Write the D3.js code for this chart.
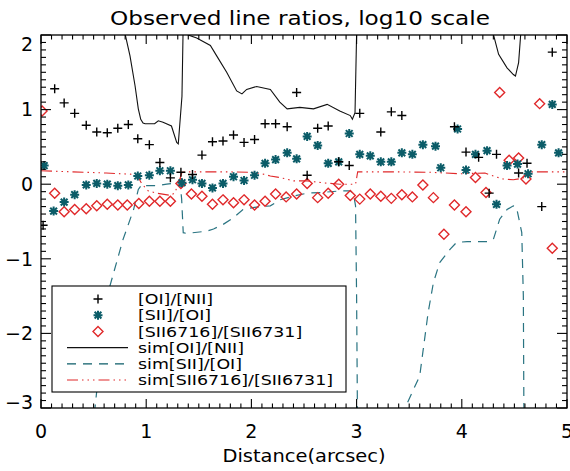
<!DOCTYPE html>
<html><head><meta charset="utf-8">
<script src="https://cdn.jsdelivr.net/npm/d3@7"></script>
<style>body{margin:0;background:#fff} svg{display:block} text{font-family:"DejaVu Sans",sans-serif;fill:#000}</style>
</head><body><svg id="c" width="570" height="471"></svg>
<script>
// ---- data (log10 ratios vs distance in arcsec) ----
const oiNiiDist = [0.02,0.13,0.22,0.32,0.43,0.53,0.63,0.73,0.83,0.92,1.03,1.13,1.23,1.33,1.44,1.53,1.63,1.73,1.83,1.93,2.03,2.13,2.23,2.34,2.43,2.53,2.63,2.73,2.83,2.93,3.03,3.23,3.33,3.43,3.93,4.04,4.16,4.26,4.33,4.54,4.62,4.76,4.86];
const oiNiiVal  = [-0.55,1.28,1.09,0.95,0.79,0.70,0.69,0.75,0.80,0.61,0.53,0.29,0.085,0.16,0.13,0.39,0.57,0.58,0.66,0.56,0.60,0.81,0.81,0.77,1.23,0.12,0.75,0.78,0.30,0.25,0.95,0.70,0.97,0.92,0.77,0.43,0.36,-0.12,0.40,0.15,0.28,-0.30,1.77];

const siiOiDist = [0.03,0.12,0.22,0.32,0.43,0.53,0.63,0.73,0.83,0.92,1.03,1.13,1.23,1.34,1.44,1.53,1.63,1.73,1.83,1.93,2.03,2.13,2.23,2.34,2.43,2.53,2.63,2.73,2.83,2.93,3.03,3.13,3.23,3.33,3.43,3.53,3.63,3.75,3.80,3.96,4.04,4.13,4.24,4.33,4.43,4.53,4.63,4.76,4.86,4.92];
const siiOiVal  = [0.25,-0.36,-0.24,-0.14,-0.01,0.01,0.0,-0.02,-0.01,0.11,0.12,0.18,0.18,0.02,0.06,0.01,-0.05,0.01,0.10,0.05,0.12,0.28,0.33,0.42,0.34,0.64,0.52,0.28,0.30,0.68,0.40,0.38,0.30,0.30,0.42,0.40,0.53,0.51,0.22,0.74,0.19,0.40,0.45,-0.27,0.25,0.27,0.14,0.53,1.07,0.42];

const siiRatioDist = [0.01,0.13,0.22,0.32,0.43,0.53,0.63,0.73,0.82,0.93,1.03,1.13,1.23,1.33,1.43,1.53,1.63,1.73,1.83,1.93,2.03,2.13,2.23,2.33,2.43,2.53,2.63,2.73,2.83,2.94,3.03,3.13,3.23,3.33,3.43,3.53,3.63,3.73,3.83,3.93,4.04,4.13,4.23,4.36,4.45,4.54,4.61,4.74,4.86];
const siiRatioVal  = [0.98,-0.12,-0.37,-0.34,-0.33,-0.29,-0.27,-0.28,-0.28,-0.26,-0.23,-0.23,-0.23,0.01,-0.13,-0.16,-0.27,-0.21,-0.25,-0.21,-0.28,-0.23,-0.13,-0.17,-0.13,0.01,-0.18,-0.12,0.0,-0.15,-0.20,-0.13,-0.16,-0.19,-0.14,-0.17,-0.01,-0.18,-0.67,-0.28,-0.37,0.09,-0.11,1.23,0.32,0.35,0.07,1.08,-0.86];

const simOiNiiDist = [0.70,0.80,0.846,0.894,0.925,0.948,0.97,0.99,1.08,1.115,1.16,1.24,1.29,1.305,1.34,1.35,1.37,1.385,1.40,1.48,1.61,1.67,1.765,1.86,1.91,1.955,2.05,2.18,2.27,2.34,2.46,2.59,2.72,2.84,2.94,2.96,2.985,3.00,3.01,4.28,4.30,4.35,4.43,4.49,4.51,4.54,4.56,4.58];
const simOiNiiVal  = [3.0,2.01,1.72,1.32,1.01,0.87,0.82,0.81,0.81,0.85,0.83,0.78,0.56,0.54,1.18,2.01,2.6,2.05,2.0,1.96,1.86,1.72,1.50,1.25,1.21,1.27,1.31,1.27,1.10,1.01,1.03,1.01,1.07,0.98,0.92,0.87,0.96,2.01,3.0,3.0,2.01,1.74,1.56,1.47,1.45,1.63,2.01,3.0];

const simSiiOiDist = [0.48,0.513,0.58,0.65,0.78,0.88,0.925,0.96,0.99,1.10,1.195,1.29,1.32,1.337,1.352,1.385,1.575,1.64,1.73,1.83,1.92,2.03,2.18,2.27,2.40,2.53,2.68,2.84,2.94,2.97,2.99,3.00,3.01,3.44,3.46,3.60,3.68,3.73,3.79,3.89,3.95,4.05,4.24,4.30,4.36,4.43,4.49,4.52,4.57,4.585,4.59,4.60];
const simSiiOiVal  = [-3.5,-3.0,-2.1,-1.39,-0.74,-0.34,-0.07,0.0,-0.02,-0.02,0.0,0.02,0.045,-0.2,-0.65,-0.66,-0.63,-0.60,-0.54,-0.45,-0.34,-0.31,-0.29,-0.21,-0.16,-0.12,-0.11,-0.09,-0.09,-0.13,-0.29,-1.5,-3.5,-3.5,-3.0,-2.57,-1.72,-1.32,-1.05,-0.87,-0.78,-0.77,-0.77,-0.74,-0.47,-0.34,-0.29,-0.31,-0.65,-1.5,-2.97,-3.5];

const simSiiRatioDist = [0.0,0.62,0.91,0.96,1.02,1.10,1.23,1.27,1.305,1.34,1.40,1.80,2.0,2.10,2.18,2.27,2.40,2.53,2.67,2.84,2.99,3.00,3.01,3.40,3.70,3.98,4.22,4.30,4.39,4.49,4.58,4.65,5.0];
const simSiiRatioVal  = [0.18,0.15,0.13,0.0,-0.09,-0.12,-0.15,-0.12,0.0,0.16,0.165,0.165,0.16,0.14,0.11,0.09,0.045,0.045,0.02,0.0,0.0,0.08,0.165,0.165,0.16,0.14,0.15,0.11,0.07,0.06,0.08,0.165,0.165];

const xTickValues = [0,1,2,3,4,5];
const yTickValues = [-3,-2,-1,0,1,2];
const legendLabels = ["[OI]/[NII]","[SII]/[OI]","[SII6716]/[SII6731]","sim[OI]/[NII]","sim[SII]/[OI]","sim[SII6716]/[SII6731]"];
const titleText = "Observed line ratios, log10 scale";
const xTitleText = "Distance(arcsec)";

// ---- layout / style ----
const BLACK="#000", TEAL="#0b5c68", TEAL_LINE="#2a7482", RED="#e0282a";
const svg=d3.select("#c");
const X0=41,X1=567,Y0=35,Y1=408;
const x=d3.scaleLinear().domain([0,5]).range([X0,X1]);
const y=d3.scaleLinear().domain([-3,2]).range([Y1,Y0]);
const zip=(a,b)=>a.map((d,i)=>[d,b[i]]);

svg.append("rect").attr("width",570).attr("height",471).attr("fill","#fff");
svg.append("defs").append("clipPath").attr("id","clip").append("rect")
  .attr("x",X0).attr("y",Y0).attr("width",X1-X0).attr("height",Y1-Y0);

const plot=svg.append("g").attr("clip-path","url(#clip)");
const line=d3.line().x(d=>x(d[0])).y(d=>y(d[1]));

// simulated curves
plot.append("path").datum(zip(simOiNiiDist,simOiNiiVal)).attr("d",line)
  .attr("fill","none").attr("stroke","#111").attr("stroke-width",1.1);
plot.append("path").datum(zip(simSiiOiDist,simSiiOiVal)).attr("d",line)
  .attr("fill","none").attr("stroke",TEAL_LINE).attr("stroke-width",1.2).attr("stroke-dasharray","9,7");
plot.append("path").datum(zip(simSiiRatioDist,simSiiRatioVal)).attr("d",line)
  .attr("fill","none").attr("stroke",RED).attr("stroke-width",1.1).attr("stroke-dasharray","11,4,1.5,4,1.5,4,1.5,4");

// marker generators
const S=4.5;
function plusPath(cx,cy){return `M${cx-S},${cy}H${cx+S}M${cx},${cy-S}V${cy+S}`;}
function starPath(cx,cy){const a=S*0.75;return `M${cx-S},${cy}H${cx+S}M${cx},${cy-S}V${cy+S}M${cx-a},${cy-a}L${cx+a},${cy+a}M${cx-a},${cy+a}L${cx+a},${cy-a}`;}
function diamondPath(cx,cy){const r=5;return `M${cx},${cy-r}L${cx+r},${cy}L${cx},${cy+r}L${cx-r},${cy}Z`;}

plot.selectAll(".dia").data(zip(siiRatioDist,siiRatioVal)).join("path").attr("class","dia")
  .attr("d",d=>diamondPath(x(d[0]),y(d[1]))).attr("fill","none").attr("stroke",RED).attr("stroke-width",1.4);
plot.selectAll(".star").data(zip(siiOiDist,siiOiVal)).join("path").attr("class","star")
  .attr("d",d=>starPath(x(d[0]),y(d[1]))).attr("fill","none").attr("stroke",TEAL).attr("stroke-width",2);
plot.selectAll(".plus").data(zip(oiNiiDist,oiNiiVal)).join("path").attr("class","plus")
  .attr("d",d=>plusPath(x(d[0]),y(d[1]))).attr("fill","none").attr("stroke",BLACK).attr("stroke-width",1.4);

// frame
svg.append("rect").attr("x",X0).attr("y",Y0).attr("width",X1-X0).attr("height",Y1-Y0)
  .attr("fill","none").attr("stroke","#000").attr("stroke-width",1.3);

// ticks (all four sides, inward)
const tg=svg.append("g").attr("stroke","#000").attr("stroke-width",1.1);
const xMinor=d3.range(0,5.0001,0.1), yMinor=d3.range(-3,2.0001,0.1);
xMinor.forEach(v=>{const major=Math.abs(v-Math.round(v))<1e-6;const L=major?9:4.5;const px=x(v);
  tg.append("line").attr("x1",px).attr("x2",px).attr("y1",Y1).attr("y2",Y1-L);
  tg.append("line").attr("x1",px).attr("x2",px).attr("y1",Y0).attr("y2",Y0+L);});
yMinor.forEach(v=>{const major=Math.abs(v-Math.round(v))<1e-6;const L=major?10:5;const py=y(v);
  tg.append("line").attr("x1",X0).attr("x2",X0+L).attr("y1",py).attr("y2",py);
  tg.append("line").attr("x1",X1).attr("x2",X1-L).attr("y1",py).attr("y2",py);});

// tick labels
const fmt=d3.format("d");
svg.selectAll(".xl").data(xTickValues).join("text").attr("class","xl")
  .attr("x",d=>x(d)).attr("y",438).attr("text-anchor","middle").attr("font-size",19).text(d=>fmt(d));
svg.selectAll(".yl").data(yTickValues).join("text").attr("class","yl")
  .attr("x",33).attr("y",d=>Math.min(Math.max(y(d),Y0+9),Y1-6)).attr("dy","0.36em")
  .attr("text-anchor","end").attr("font-size",19).text(d=>fmt(d));

// titles
svg.append("text").attr("x",(X0+X1)/2-4).attr("y",25).attr("text-anchor","middle")
  .attr("font-size",20).attr("textLength",380).attr("lengthAdjust","spacingAndGlyphs").text(titleText);
svg.append("text").attr("x",(X0+X1)/2).attr("y",462).attr("text-anchor","middle")
  .attr("font-size",18).attr("textLength",163).attr("lengthAdjust","spacingAndGlyphs").text(xTitleText);

// legend
const lg=svg.append("g");
lg.append("rect").attr("x",52).attr("y",286).attr("width",294).attr("height",106)
  .attr("fill","#fff").attr("stroke","#000").attr("stroke-width",1.1);
const rowY=i=>299+i*16.2;
lg.append("path").attr("d",plusPath(98,rowY(0))).attr("stroke",BLACK).attr("stroke-width",1.4);
lg.append("path").attr("d",starPath(98,rowY(1))).attr("stroke",TEAL).attr("stroke-width",2);
lg.append("path").attr("d",diamondPath(98,rowY(2))).attr("fill","none").attr("stroke",RED).attr("stroke-width",1.4);
lg.append("line").attr("x1",67).attr("x2",128).attr("y1",rowY(3)).attr("y2",rowY(3)).attr("stroke","#111").attr("stroke-width",1.1);
lg.append("line").attr("x1",67).attr("x2",128).attr("y1",rowY(4)).attr("y2",rowY(4)).attr("stroke",TEAL).attr("stroke-width",1.2).attr("stroke-dasharray","9,7");
lg.append("line").attr("x1",67).attr("x2",128).attr("y1",rowY(5)).attr("y2",rowY(5)).attr("stroke",RED).attr("stroke-width",1.1).attr("stroke-dasharray","11,4,1.5,4,1.5,4,1.5,4");
lg.selectAll(".lt").data(legendLabels).join("text").attr("class","lt")
  .attr("x",138).attr("y",(d,i)=>rowY(i)).attr("dy","0.36em").attr("font-size",14.5)
  .text(d=>d)
  .each(function(){const n=this.getComputedTextLength();d3.select(this).attr("textLength",n*1.2).attr("lengthAdjust","spacingAndGlyphs");});
</script></body></html>
